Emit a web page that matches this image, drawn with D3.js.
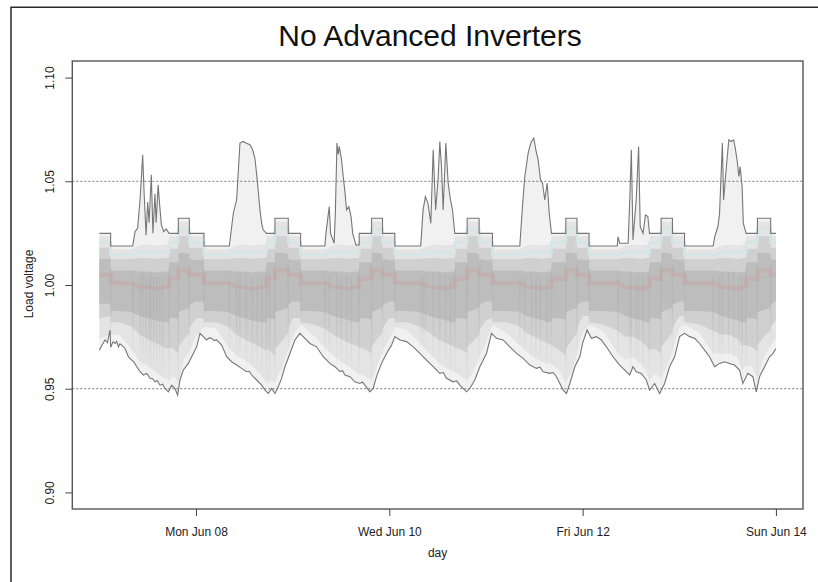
<!DOCTYPE html>
<html>
<head>
<meta charset="utf-8">
<script src="https://cdn.jsdelivr.net/npm/d3@7"></script>
<style>
  body { margin: 0; background: #fff; }
  svg { display: block; }
  text { font-family: "Liberation Sans", Arial, Helvetica, sans-serif; }
</style>
</head>
<body>
<svg id="chart" width="818" height="582"></svg>
<script>
// Load voltages for one week, hours counted from Sun Jun 07 00:00.

// Highest load voltage at each moment: [hour, pu]
const maxEnvelope = [
  [0,1.0249],[2.8,1.0249],[2.8,1.0188],[8.28,1.0188],[8.86,1.0257],[9.5,1.0275],[10.1,1.041],[10.76,1.0627],[11.1,1.045],[11.6,1.024],[12.0,1.040],[12.35,1.030],[12.9,1.0531],[13.3,1.025],[13.8,1.044],[14.1,1.030],[14.6,1.0483],[15.0,1.038],[15.4,1.029],[16.0,1.0257],[16.6,1.027],[17.3,1.0249],[19.61,1.0249],[19.61,1.0322],[22.34,1.0322],[22.34,1.0249],[25.98,1.0249],[25.98,1.0188],
  [32.27,1.0188],[33.26,1.0346],[34.08,1.041],[34.91,1.0684],[35.73,1.0692],[36.5,1.0684],[37.4,1.0676],[38.05,1.0652],[38.63,1.0611],[39.2,1.0507],[39.88,1.0362],[40.29,1.0298],[40.7,1.0265],[41.53,1.0249],[43.6,1.0249],[43.6,1.0322],[46.91,1.0322],[46.91,1.0249],[49.97,1.0249],[49.97,1.0188],
  [56.0,1.0188],[56.26,1.0249],[57.08,1.0378],[57.41,1.0249],[58.3,1.0201],[58.6,1.035],[59.0,1.0684],[59.3,1.063],[59.56,1.0668],[60.14,1.0603],[60.55,1.0523],[60.97,1.045],[61.38,1.0362],[61.95,1.0378],[62.5,1.033],[62.9,1.0249],[63.7,1.0193],[64.52,1.0193],[64.52,1.0249],[67.6,1.0249],[67.6,1.0322],[70.31,1.0322],[70.31,1.0249],[73.37,1.0249],[73.37,1.0188],
  [79.8,1.0188],[80.38,1.0362],[80.96,1.0426],[81.6,1.0394],[82.3,1.0298],[82.89,1.0652],[83.5,1.0362],[84.1,1.0507],[84.54,1.0692],[84.95,1.0571],[85.37,1.0362],[86.03,1.0684],[86.61,1.0491],[87.19,1.041],[87.68,1.0362],[88.26,1.0249],[91.33,1.0249],[91.33,1.0322],[94.3,1.0322],[94.3,1.0249],[97.61,1.0249],[97.61,1.0188],
  [104.4,1.0188],[105.06,1.0378],[105.64,1.0523],[106.47,1.0635],[106.89,1.0668],[107.3,1.0692],[107.88,1.0708],[108.38,1.0652],[108.96,1.0603],[109.54,1.0507],[110.04,1.0491],[110.6,1.041],[111.2,1.0491],[111.7,1.0346],[112.27,1.0249],[115.82,1.0249],[115.82,1.0322],[118.6,1.0322],[118.6,1.0249],[121.6,1.0249],[121.6,1.0188],
  [128.6,1.0188],[128.8,1.0233],[129.2,1.0201],[131.3,1.0201],[131.7,1.041],[132.1,1.0652],[132.5,1.0217],[133.3,1.041],[133.9,1.0668],[134.3,1.0282],[135.0,1.0249],[135.6,1.0338],[136.2,1.033],[136.6,1.0249],[139.5,1.0249],[139.5,1.0322],[142.3,1.0322],[142.3,1.0249],[145.3,1.0249],[145.3,1.0188],
  [152.4,1.0188],[152.8,1.0233],[153.6,1.0282],[154.0,1.0346],[154.7,1.0684],[155.0,1.041],[155.7,1.0571],[156.3,1.070],[156.9,1.0692],[157.5,1.070],[157.9,1.066],[158.4,1.0595],[158.8,1.0523],[159.1,1.0571],[159.6,1.0475],[159.9,1.0298],[160.6,1.0249],[163.4,1.0249],[163.4,1.0322],[166.7,1.0322],[166.7,1.0249],[168,1.0249]
];

// Lowest load voltage at each moment: [hour, pu]
const minEnvelope = [
  [0,0.9686],[0.7,0.9712],[1.41,0.9735],[2.0,0.9722],[2.65,0.9783],[2.8,0.9700],[3.4,0.9726],[3.9,0.9718],[4.3,0.9728],[4.72,0.9702],[5.1,0.9716],[5.55,0.9710],[6.38,0.9694],[7.2,0.9654],[8.03,0.9638],[8.6,0.9628],[9.27,0.9606],[10.1,0.9582],[10.93,0.9566],[11.75,0.9574],[12.58,0.955],[13.2,0.9548],[13.82,0.9533],[14.4,0.9538],[15.06,0.9517],[15.7,0.9522],[16.3,0.9501],[17.13,0.9485],[17.95,0.9517],[18.78,0.9501],[19.44,0.9469],[20.02,0.9542],[20.85,0.959],[22.09,0.9622],[23.33,0.967],[24.16,0.9702],[24.99,0.9767],[25.81,0.9751],
  [26.64,0.9735],[27.3,0.9745],[27.88,0.9743],[28.5,0.9732],[29.12,0.9735],[30.36,0.971],[31.6,0.9654],[32.84,0.963],[34.08,0.9614],[35.32,0.9598],[36.57,0.9582],[37.2,0.9584],[37.81,0.9566],[39.05,0.9542],[40.29,0.9517],[41.12,0.9493],[41.94,0.9477],[42.77,0.9501],[43.6,0.9477],[44.43,0.9509],[45.25,0.955],[46.08,0.9606],[47.32,0.967],[48.56,0.9735],[49.8,0.9767],
  [51.04,0.9743],[52.28,0.9718],[53.93,0.9702],[55.59,0.9654],[57.24,0.9622],[58.49,0.9606],[59.73,0.9582],[60.35,0.9588],[60.97,0.9566],[62.21,0.9558],[63.45,0.9533],[64.69,0.9525],[65.3,0.9532],[65.93,0.9517],[67.17,0.9485],[67.99,0.9501],[68.82,0.9558],[70.06,0.9622],[71.3,0.967],[72.55,0.971],[73.37,0.9751],
  [74.61,0.9735],[76.27,0.9727],[77.92,0.9702],[79.58,0.967],[81.23,0.9638],[82.89,0.9606],[84.54,0.9574],[85.4,0.9578],[86.2,0.955],[87.85,0.9533],[88.7,0.9538],[89.51,0.9517],[91.16,0.9485],[91.99,0.9501],[93.23,0.9542],[94.48,0.9606],[96.13,0.967],[97.37,0.9767],
  [98.61,0.9743],[100.27,0.9735],[101.92,0.9702],[103.58,0.967],[105.23,0.9646],[106.89,0.9614],[108.54,0.9598],[109.4,0.9604],[110.2,0.9582],[111.85,0.9574],[112.7,0.9578],[113.51,0.9558],[115.16,0.9493],[115.99,0.9477],[116.82,0.9525],[118.06,0.9606],[119.3,0.9654],[120.0,0.972],[121.1,0.9783],
  [122.17,0.9743],[123.41,0.9751],[124.65,0.9735],[125.89,0.9702],[127.54,0.9654],[129.2,0.9614],[130.85,0.9582],[131.68,0.9566],[132.51,0.9606],[133.33,0.9582],[134.57,0.9574],[135.81,0.9542],[136.64,0.9493],[137.88,0.9525],[139.12,0.9477],[140.36,0.9525],[141.6,0.9606],[142.84,0.9654],[144.08,0.9751],[145.32,0.9767],
  [146.56,0.9751],[147.8,0.9743],[149.04,0.9718],[150.28,0.9686],[151.52,0.9654],[152.76,0.9606],[154.0,0.9622],[155.24,0.963],[156.48,0.9622],[157.72,0.9614],[158.96,0.959],[159.79,0.9525],[161.03,0.9574],[162.27,0.9558],[163.1,0.9485],[163.93,0.9558],[165.17,0.9606],[166.41,0.9654],[167.2,0.9668],[168,0.9694]
];

// Hours at which the spread of all load voltages is sampled
const cloudHours = [
  0,2.8,2.8,5,8,10,12,14,16,17.3,17.3,18.5,19.61,19.61,21,22.34,22.34,24,
  25.98,25.98,29,32,34,36,38,40,41.53,41.53,42.5,43.6,43.6,45.3,46.91,46.91,48,
  49.97,49.97,53,56,58,60,62,63.5,64.52,64.52,66,67.6,67.6,69,70.31,70.31,72,
  73.37,73.37,76.5,79.5,82,84,86,87.3,88.26,88.26,89.8,91.33,91.33,92.8,94.3,94.3,96,
  97.61,97.61,101,104.4,106,108,110,111.3,112.27,112.27,114,115.82,115.82,117.2,118.6,118.6,120,
  121.6,121.6,125,128.8,130.5,132.5,134.5,135.7,136.6,136.6,138,139.5,139.5,141,142.3,142.3,144,
  145.3,145.3,149,152.4,154.5,156.5,158.5,159.6,160.6,160.6,162,163.4,163.4,165,166.7,166.7,168
];

// Upper edge of the faint part of the spread
const bandHigh = [
  1.0235,1.0235,1.0172,1.0172,1.0172,1.0190,1.0195,1.0190,1.0195,1.0195,1.0235,1.0235,1.0235,1.0305,1.0305,1.0305,1.0235,1.0235,
  1.0235,1.0172,1.0172,1.0172,1.0190,1.0195,1.0190,1.0195,1.0195,1.0235,1.0235,1.0235,1.0305,1.0305,1.0305,1.0235,1.0235,
  1.0235,1.0172,1.0172,1.0172,1.0190,1.0195,1.0190,1.0195,1.0195,1.0235,1.0235,1.0235,1.0305,1.0305,1.0305,1.0235,1.0235,
  1.0235,1.0172,1.0172,1.0172,1.0190,1.0195,1.0190,1.0195,1.0195,1.0235,1.0235,1.0235,1.0305,1.0305,1.0305,1.0235,1.0235,
  1.0235,1.0172,1.0172,1.0172,1.0190,1.0195,1.0190,1.0195,1.0195,1.0235,1.0235,1.0235,1.0305,1.0305,1.0305,1.0235,1.0235,
  1.0235,1.0172,1.0172,1.0172,1.0190,1.0195,1.0190,1.0195,1.0195,1.0235,1.0235,1.0235,1.0305,1.0305,1.0305,1.0235,1.0235,
  1.0235,1.0172,1.0172,1.0172,1.0190,1.0195,1.0190,1.0195,1.0195,1.0235,1.0235,1.0235,1.0305,1.0305,1.0305,1.0235,1.0235
];

// Upper edge of the medium part of the spread
const bandMidHigh = [
  1.018,1.018,1.0125,1.0125,1.0125,1.013,1.013,1.0125,1.013,1.013,1.0175,1.0175,1.0175,1.0235,1.0235,1.0235,1.018,1.018,
  1.018,1.0125,1.0125,1.0125,1.013,1.013,1.0125,1.013,1.013,1.0175,1.0175,1.0175,1.0235,1.0235,1.0235,1.018,1.018,
  1.018,1.0125,1.0125,1.0125,1.013,1.013,1.0125,1.013,1.013,1.0175,1.0175,1.0175,1.0235,1.0235,1.0235,1.018,1.018,
  1.018,1.0125,1.0125,1.0125,1.013,1.013,1.0125,1.013,1.013,1.0175,1.0175,1.0175,1.0235,1.0235,1.0235,1.018,1.018,
  1.018,1.0125,1.0125,1.0125,1.013,1.013,1.0125,1.013,1.013,1.0175,1.0175,1.0175,1.0235,1.0235,1.0235,1.018,1.018,
  1.018,1.0125,1.0125,1.0125,1.013,1.013,1.0125,1.013,1.013,1.0175,1.0175,1.0175,1.0235,1.0235,1.0235,1.018,1.018,
  1.018,1.0125,1.0125,1.0125,1.013,1.013,1.0125,1.013,1.013,1.0175,1.0175,1.0175,1.0235,1.0235,1.0235,1.018,1.018
];

// Upper edge of the dense core
const bandCoreHigh = [
  1.0125,1.0125,1.007,1.007,1.007,1.0065,1.0065,1.006,1.0065,1.0065,1.011,1.011,1.011,1.0155,1.0155,1.015,1.0125,1.012,
  1.012,1.007,1.007,1.007,1.0065,1.0065,1.006,1.0065,1.0065,1.011,1.011,1.011,1.0155,1.0155,1.015,1.0125,1.012,
  1.012,1.007,1.007,1.007,1.0065,1.0065,1.006,1.0065,1.0065,1.011,1.011,1.011,1.0155,1.0155,1.015,1.0125,1.012,
  1.012,1.007,1.007,1.007,1.0065,1.0065,1.006,1.0065,1.0065,1.011,1.011,1.011,1.0155,1.0155,1.015,1.0125,1.012,
  1.012,1.007,1.007,1.007,1.0065,1.0065,1.006,1.0065,1.0065,1.011,1.011,1.011,1.0155,1.0155,1.015,1.0125,1.012,
  1.012,1.007,1.007,1.007,1.0065,1.0065,1.006,1.0065,1.0065,1.011,1.011,1.011,1.0155,1.0155,1.015,1.0125,1.012,
  1.012,1.007,1.007,1.007,1.0065,1.0065,1.006,1.0065,1.0065,1.011,1.011,1.011,1.0155,1.0155,1.015,1.0125,1.012
];

// Lower edge of the dense core
const bandCoreLow = [
  0.991,0.991,0.9875,0.9875,0.987,0.985,0.984,0.983,0.982,0.982,0.984,0.984,0.9835,0.987,0.988,0.989,0.9905,0.992,
  0.992,0.9875,0.9875,0.987,0.985,0.984,0.983,0.982,0.982,0.984,0.984,0.9835,0.987,0.988,0.989,0.9905,0.992,
  0.992,0.9875,0.9875,0.987,0.985,0.984,0.983,0.982,0.982,0.984,0.984,0.9835,0.987,0.988,0.989,0.9905,0.992,
  0.992,0.9875,0.9875,0.987,0.985,0.984,0.983,0.982,0.982,0.984,0.984,0.9835,0.987,0.988,0.989,0.9905,0.992,
  0.992,0.9875,0.9875,0.987,0.985,0.984,0.983,0.982,0.982,0.984,0.984,0.9835,0.987,0.988,0.989,0.9905,0.992,
  0.992,0.9875,0.9875,0.987,0.985,0.984,0.983,0.982,0.982,0.984,0.984,0.9835,0.987,0.988,0.989,0.9905,0.992,
  0.992,0.9875,0.9875,0.987,0.985,0.984,0.983,0.982,0.982,0.984,0.984,0.9835,0.987,0.988,0.989,0.9905,0.992
];

// Lower edge of the medium part of the spread
const bandMidLow = [
  0.984,0.985,0.982,0.982,0.980,0.976,0.974,0.972,0.970,0.969,0.970,0.969,0.967,0.970,0.974,0.977,0.979,0.984,
  0.984,0.982,0.982,0.980,0.976,0.974,0.972,0.970,0.968,0.969,0.968,0.966,0.969,0.973,0.977,0.979,0.984,
  0.984,0.982,0.981,0.979,0.976,0.974,0.972,0.971,0.970,0.970,0.969,0.967,0.970,0.974,0.977,0.979,0.984,
  0.984,0.982,0.982,0.980,0.977,0.974,0.972,0.971,0.970,0.970,0.969,0.967,0.970,0.973,0.976,0.978,0.983,
  0.984,0.982,0.982,0.980,0.977,0.975,0.973,0.972,0.971,0.971,0.969,0.966,0.969,0.973,0.977,0.979,0.985,
  0.985,0.982,0.981,0.978,0.975,0.975,0.973,0.971,0.968,0.969,0.969,0.967,0.970,0.974,0.977,0.979,0.985,
  0.985,0.982,0.981,0.978,0.976,0.976,0.974,0.971,0.971,0.971,0.970,0.968,0.971,0.975,0.978,0.980,0.983
];

// Lower edge of the faint part of the spread, just above the minimum
const bandLow = [
  0.974,0.976,0.976,0.976,0.969,0.963,0.961,0.958,0.955,0.954,0.954,0.956,0.953,0.953,0.964,0.968,0.968,0.975,
  0.980,0.980,0.979,0.970,0.966,0.964,0.961,0.957,0.953,0.953,0.954,0.953,0.953,0.960,0.969,0.969,0.975,
  0.981,0.981,0.976,0.970,0.966,0.963,0.961,0.958,0.957,0.957,0.956,0.954,0.954,0.961,0.968,0.968,0.974,
  0.980,0.980,0.978,0.972,0.967,0.963,0.960,0.959,0.958,0.958,0.956,0.954,0.954,0.958,0.965,0.965,0.972,
  0.981,0.981,0.977,0.971,0.968,0.965,0.963,0.962,0.962,0.962,0.959,0.953,0.953,0.958,0.967,0.967,0.977,
  0.981,0.981,0.978,0.967,0.964,0.965,0.962,0.959,0.954,0.954,0.957,0.955,0.955,0.961,0.968,0.968,0.979,
  0.981,0.981,0.977,0.967,0.967,0.967,0.965,0.959,0.961,0.961,0.961,0.955,0.955,0.965,0.971,0.971,0.974
];

// A heavily loaded group of buses (drawn in red) and a lightly loaded one (teal)
const redTrace = [
  1.005,1.005,1.001,1.001,1.001,0.999,0.999,0.998,0.999,0.999,1.003,1.003,1.003,1.007,1.007,1.007,1.005,1.005,
  1.005,1.001,1.001,1.001,0.999,0.999,0.998,0.999,0.999,1.003,1.003,1.003,1.007,1.007,1.007,1.005,1.005,
  1.005,1.001,1.001,1.001,0.999,0.999,0.998,0.999,0.999,1.003,1.003,1.003,1.007,1.007,1.007,1.005,1.005,
  1.005,1.001,1.001,1.001,0.999,0.999,0.998,0.999,0.999,1.003,1.003,1.003,1.007,1.007,1.007,1.005,1.005,
  1.005,1.001,1.001,1.001,0.999,0.999,0.998,0.999,0.999,1.003,1.003,1.003,1.007,1.007,1.007,1.005,1.005,
  1.005,1.001,1.001,1.001,0.999,0.999,0.998,0.999,0.999,1.003,1.003,1.003,1.007,1.007,1.007,1.005,1.005,
  1.005,1.001,1.001,1.001,0.999,0.999,0.998,0.999,0.999,1.003,1.003,1.003,1.007,1.007,1.007,1.005,1.005
];
const tealTrace = [
  1.0205,1.0205,1.0145,1.0145,1.0145,1.0155,1.0155,1.0155,1.0155,1.0155,1.0205,1.0205,1.0205,1.027,1.027,1.027,1.0205,1.0205,
  1.0205,1.0145,1.0145,1.0145,1.0155,1.0155,1.0155,1.0155,1.0155,1.0205,1.0205,1.0205,1.027,1.027,1.027,1.0205,1.0205,
  1.0205,1.0145,1.0145,1.0145,1.0155,1.0155,1.0155,1.0155,1.0155,1.0205,1.0205,1.0205,1.027,1.027,1.027,1.0205,1.0205,
  1.0205,1.0145,1.0145,1.0145,1.0155,1.0155,1.0155,1.0155,1.0155,1.0205,1.0205,1.0205,1.027,1.027,1.027,1.0205,1.0205,
  1.0205,1.0145,1.0145,1.0145,1.0155,1.0155,1.0155,1.0155,1.0155,1.0205,1.0205,1.0205,1.027,1.027,1.027,1.0205,1.0205,
  1.0205,1.0145,1.0145,1.0145,1.0155,1.0155,1.0155,1.0155,1.0155,1.0205,1.0205,1.0205,1.027,1.027,1.027,1.0205,1.0205,
  1.0205,1.0145,1.0145,1.0145,1.0155,1.0155,1.0155,1.0155,1.0155,1.0205,1.0205,1.0205,1.027,1.027,1.027,1.0205,1.0205
];

// Brief voltage swings of many loads at once: [hour, lowest pu, highest pu]
const swings = [
  [2.8,0.972,1.008],[8.3,0.966,1.004],[10.1,0.960,1.004],[10.8,0.958,1.006],[11.6,0.957,1.004],[12.4,0.956,1.004],[12.9,0.955,1.006],[13.5,0.955,1.004],[14.2,0.954,1.004],[15.0,0.953,1.004],[15.8,0.952,1.004],[17.3,0.951,1.008],[19.61,0.949,1.010],[22.34,0.964,1.010],[25.98,0.977,1.008],
  [32.3,0.966,1.004],[34.1,0.962,1.004],[34.9,0.961,1.006],[36.5,0.959,1.004],[38.0,0.957,1.004],[39.2,0.955,1.004],[40.3,0.953,1.004],[41.53,0.950,1.008],[42.3,0.950,1.006],[43.6,0.949,1.010],[46.91,0.962,1.010],[49.97,0.978,1.008],
  [56.0,0.966,1.004],[57.1,0.963,1.004],[59.0,0.961,1.006],[60.1,0.959,1.004],[61.4,0.957,1.004],[62.5,0.956,1.004],[64.52,0.954,1.008],[67.6,0.950,1.010],[70.31,0.964,1.010],[73.37,0.977,1.008],
  [79.8,0.968,1.004],[80.4,0.967,1.004],[81.0,0.966,1.004],[82.9,0.962,1.006],[84.5,0.959,1.006],[86.0,0.957,1.006],[87.2,0.955,1.004],[88.26,0.955,1.008],[91.33,0.950,1.010],[94.3,0.961,1.010],[97.61,0.978,1.008],
  [104.4,0.967,1.004],[105.6,0.965,1.004],[107.3,0.962,1.006],[108.4,0.961,1.004],[109.5,0.960,1.004],[111.2,0.958,1.004],[112.27,0.958,1.008],[115.82,0.950,1.010],[118.6,0.963,1.010],[121.6,0.978,1.008],
  [128.8,0.963,1.004],[131.7,0.958,1.004],[132.1,0.957,1.006],[133.3,0.959,1.004],[133.9,0.958,1.006],[135.0,0.955,1.004],[136.6,0.951,1.008],[139.5,0.950,1.010],[142.3,0.966,1.010],[145.3,0.978,1.008],
  [152.4,0.962,1.004],[154.0,0.963,1.004],[154.7,0.963,1.006],[156.3,0.962,1.006],[157.5,0.962,1.006],[158.8,0.959,1.004],[159.6,0.954,1.004],[160.6,0.957,1.008],[163.4,0.951,1.010],[166.7,0.967,1.010]
];

// ANSI range limits and axis ticks
const limits = [0.95, 1.05];
const voltageTicks = [0.90, 0.95, 1.00, 1.05, 1.10];
const dayTicks = ["2015-06-08", "2015-06-10", "2015-06-12", "2015-06-14"];
const chartTitle = "No Advanced Inverters";

// ---------------------------------------------------------------------
const svg = d3.select("#chart");
const start = Date.UTC(2015, 5, 7);
const at = h => new Date(start + h * 3600e3);
const span = 168, pad = span * 0.04;

const x = d3.scaleUtc().domain([at(-pad), at(span + pad)]).range([72.3, 803]);
const y = d3.scaleLinear().domain([0.892, 1.108]).range([509, 61]);

// outer figure frame
svg.append("path").attr("d", "M11,582V7.3H818").attr("fill", "none")
  .attr("stroke", "#2a2a2a").attr("stroke-width", 1.5);

const defs = svg.append("defs");
defs.append("clipPath").attr("id", "plotClip")
  .append("rect").attr("x", 72.3).attr("y", 61).attr("width", 803 - 72.3).attr("height", 448);
const grad = defs.append("linearGradient").attr("id", "swingFade")
  .attr("x1", 0).attr("y1", 0).attr("x2", 0).attr("y2", 1);
grad.append("stop").attr("offset", "0%").attr("stop-color", "#a4a4a4").attr("stop-opacity", 0.3);
grad.append("stop").attr("offset", "50%").attr("stop-color", "#aaaaaa").attr("stop-opacity", 0.3);
grad.append("stop").attr("offset", "100%").attr("stop-color", "#c8c8c8").attr("stop-opacity", 0.05);

const plot = svg.append("g").attr("clip-path", "url(#plotClip)");

const rows = cloudHours.map((h, i) => ({
  t: at(h), lo: bandLow[i], midLo: bandMidLow[i], coreLo: bandCoreLow[i],
  coreHi: bandCoreHigh[i], midHi: bandMidHigh[i], hi: bandHigh[i],
  red: redTrace[i], teal: tealTrace[i]
}));

// faint envelope between the highest and lowest voltage
const envPts = maxEnvelope.map(d => [x(at(d[0])), y(d[1])])
  .concat(minEnvelope.slice().reverse().map(d => [x(at(d[0])), y(d[1])]));
plot.append("path").attr("d", d3.line()(envPts) + "Z").attr("fill", "#f1f1f1");

const band = (lo, hi, fill) => plot.append("path").datum(rows)
  .attr("fill", fill)
  .attr("d", d3.area().x(d => x(d.t)).y0(d => y(d[lo])).y1(d => y(d[hi])));

band("lo", "hi", "#e4e4e4");
band("midLo", "midHi", "#d0d0d0");
band("coreLo", "coreHi", "#bdbdbd");

// quick swings, drawn as soft streaks fading downward
plot.selectAll("rect.swing").data(swings).join("rect")
  .attr("class", "swing")
  .attr("x", d => x(at(d[0])) - 0.8).attr("width", 1.6)
  .attr("y", d => y(d[2])).attr("height", d => y(d[1]) - y(d[2]))
  .attr("fill", "url(#swingFade)");

const trace = (key, color, w, op) => plot.append("path").datum(rows)
  .attr("fill", "none").attr("stroke", color).attr("stroke-width", w).attr("opacity", op)
  .attr("d", d3.line().x(d => x(d.t)).y(d => y(d[key])));

trace("teal", "#d3e6e6", 3, 0.85);
trace("red", "#cc9696", 4, 0.3);

// voltage limits
plot.selectAll("line.limit").data(limits).join("line")
  .attr("class", "limit")
  .attr("x1", 72.3).attr("x2", 803)
  .attr("y1", d => y(d)).attr("y2", d => y(d))
  .attr("stroke", "#777").attr("stroke-width", 1).attr("stroke-dasharray", "2,2");

const envLine = d3.line().x(d => x(at(d[0]))).y(d => y(d[1]));
plot.append("path").datum(maxEnvelope).attr("d", envLine)
  .attr("fill", "none").attr("stroke", "#767676").attr("stroke-width", 1.1);
plot.append("path").datum(minEnvelope).attr("d", envLine)
  .attr("fill", "none").attr("stroke", "#767676").attr("stroke-width", 1.1);

// plot box
svg.append("rect").attr("x", 72.3).attr("y", 61).attr("width", 803 - 72.3).attr("height", 448)
  .attr("fill", "none").attr("stroke", "#555").attr("stroke-width", 1.4);

// x axis
const xAxis = svg.append("g").attr("transform", "translate(0,509)")
  .call(d3.axisBottom(x)
    .tickValues(dayTicks.map(s => new Date(s + "T00:00:00Z")))
    .tickFormat(d3.utcFormat("%a %b %d"))
    .tickSize(7).tickPadding(11));
xAxis.select(".domain").remove();
xAxis.selectAll("line").attr("stroke", "#444");
xAxis.selectAll("text").attr("font-size", 12).attr("fill", "#222")
  .style("font-family", '"Liberation Sans", Arial, Helvetica, sans-serif');

// y axis, labels turned upright along the axis
const yAxis = svg.append("g").attr("transform", "translate(72.3,0)")
  .call(d3.axisLeft(y).tickValues(voltageTicks).tickFormat(d3.format(".2f")).tickSize(7));
yAxis.select(".domain").remove();
yAxis.selectAll("line").attr("stroke", "#444");
yAxis.selectAll("text")
  .attr("transform", "rotate(-90)")
  .attr("x", 0).attr("y", -18).attr("dy", 0)
  .attr("text-anchor", "middle")
  .attr("font-size", 12).attr("fill", "#222")
  .style("font-family", '"Liberation Sans", Arial, Helvetica, sans-serif');

// titles
svg.append("text").attr("x", 430).attr("y", 46).attr("text-anchor", "middle")
  .attr("font-size", 30).attr("fill", "#111").text(chartTitle);
svg.append("text").attr("x", 437.6).attr("y", 557).attr("text-anchor", "middle")
  .attr("font-size", 12).attr("fill", "#222").text("day");
svg.append("text").attr("transform", "translate(33,284) rotate(-90)")
  .attr("text-anchor", "middle").attr("font-size", 12).attr("fill", "#222").text("Load voltage");
</script>
</body>
</html>
